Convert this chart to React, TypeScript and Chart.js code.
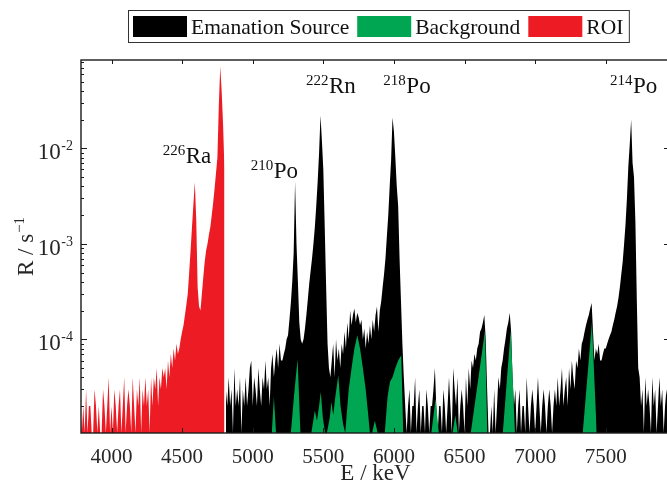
import React, { useEffect, useRef } from 'react';
import { Chart, registerables } from 'chart.js';

Chart.register(...registerables);

const FONT = "'Liberation Serif', 'Times New Roman', serif";

// Axis ranges (keV, s^-1)
const X_MIN = 3784;
const X_MAX = 7955;
const Y_MIN = 1.045e-5;
const Y_MAX = 0.084;

const xTickValues = [4000, 4500, 5000, 5500, 6000, 6500, 7000, 7500];
const yTickExponents = [-2, -3, -4];

const xTitle = 'E / keV';
const yTitleMain = 'R / s';
const yTitleSup = '\u22121';

// Rates are given in units of 1e-5 s^-1, histogram bins of 10 keV
const RATE_UNIT = 1e-5;
const BIN_WIDTH = 10;

const seriesNames = ['Emanation Source', 'Background', 'ROI'];
const seriesColors = ['#000000', '#00A651', '#ED1C24'];

// ROI: bins starting at 3780 keV
const roiStart = 3780;
const roiRate = [
  2, 0, 2, 0, 3, 0, 2, 2, 0, 0,
  3, 2, 0, 2, 0, 0, 3, 2, 0, 2,
  4, 0, 2, 0, 3, 2, 0, 2, 3, 0,
  2, 4, 0, 2, 3, 2, 0, 4, 2, 0,
  3, 2, 4, 0, 3, 2, 4, 2, 3, 0,
  4, 2, 4, 3, 5, 2, 4, 3, 5, 4,
  5, 3, 6, 4, 7, 5, 8, 6, 9, 7,
  8, 10, 12, 14, 18, 23, 30, 50, 85, 150,
  260, 440, 180, 35, 22, 20, 30, 45, 65, 85,
  100, 125, 150, 200, 270, 380, 550, 800, 2800, 7200,
  4000, 1800, 600,
];

// Emanation source: bins starting at 4810 keV
const sourceStart = 4810;
const sourceRate = [
  3, 2, 4, 2, 3, 0, 5, 2, 3, 2,
  4, 0, 3, 2, 4, 2, 3, 5, 6, 2,
  4, 3, 2, 5, 3, 2, 4, 3, 6, 3,
  4, 2, 5, 7, 4, 6, 8, 5, 9, 6,
  6, 7, 8, 10, 11, 16, 24, 40, 80, 450,
  100, 40, 15, 10, 9, 10, 13, 18, 26, 38,
  52, 70, 100, 150, 250, 450, 900, 2200, 1200, 600,
  150, 35, 9, 5, 4, 6, 9, 4, 10, 6,
  8, 5, 9, 7, 12, 8, 15, 10, 20, 14,
  18, 21, 15, 19, 17, 14, 16, 10, 13, 8,
  12, 9, 14, 10, 16, 12, 18, 22, 12, 20,
  25, 35, 48, 70, 120, 200, 400, 750, 2100, 1500,
  800, 400, 250, 70, 25, 9, 4, 2, 0, 2,
  3, 0, 2, 2, 4, 0, 2, 3, 0, 2,
  2, 0, 3, 2, 0, 2, 2, 3, 5, 2,
  0, 2, 2, 0, 3, 2, 0, 2, 4, 2,
  0, 5, 3, 2, 4, 0, 2, 3, 2, 0,
  4, 2, 5, 3, 6, 5, 7, 6, 8, 9,
  12, 13, 15, 18, 10, 3, 0, 0, 2, 0,
  3, 0, 2, 4, 3, 5, 6, 8, 10, 13,
  15, 19, 12, 4, 2, 3, 0, 2, 3, 0,
  2, 2, 0, 4, 2, 0, 2, 3, 2, 0,
  2, 4, 2, 0, 2, 3, 2, 0, 2, 3,
  2, 0, 2, 3, 2, 4, 2, 3, 5, 2,
  3, 4, 2, 5, 3, 6, 4, 3, 6, 5,
  8, 6, 9, 10, 12, 14, 16, 18, 21, 24,
  12, 6, 8, 7, 9, 6, 6, 7, 8, 8,
  9, 10, 11, 12, 14, 16, 19, 22, 27, 35,
  48, 65, 100, 160, 300, 650, 1100, 2000, 700, 500,
  170, 26, 5, 4, 2, 3, 0, 4, 2, 3,
  2, 0, 4, 2, 3, 0, 2, 4, 2, 3,
  0, 2, 3, 2, 2,
];

// Background: peak outlines (keV, 1e-5 s^-1)
const backgroundEnergy = [
  5135, 5150, 5165,
  5270, 5292, 5305, 5318, 5338,
  5415, 5440, 5455, 5470, 5482, 5497, 5512,
  5525, 5545, 5558, 5570, 5585, 5606, 5622, 5640, 5655,
  5660, 5680, 5700, 5720, 5741, 5760, 5780, 5800, 5815, 5830,
  5845, 5865, 5885,
  5935, 5955, 5972, 5990, 6010, 6030, 6052, 6066,
  6265, 6295, 6318,
  6415, 6435, 6452,
  6544, 6645, 6661,
  6771, 6827, 6857,
  7337, 7402, 7436,
];
const backgroundRate = [
  0, 2.5, 0,
  0, 2.5, 4, 6.2, 0,
  0, 1.8, 1.4, 2.0, 2.8, 1.5, 0,
  0, 1.5, 2.2, 1.6, 2.5, 4.2, 2.0, 1.3, 0,
  0, 3, 5, 8, 11, 8, 5, 3, 1.8, 0,
  0, 1.4, 0,
  0, 2.5, 3.6, 4, 5, 6, 6.8, 0,
  0, 2.4, 0,
  0, 1.6, 0,
  0, 12.4, 0,
  0, 12.5, 0,
  0, 15, 0,
];

// Peak annotations (anchor: left edge energy, baseline rate)
const peakMass = ['226', '210', '222', '218', '214'];
const peakElement = ['Ra', 'Po', 'Rn', 'Po', 'Po'];
const peakLabelEnergy = [4363, 4986, 5377, 5925, 7530];
const peakLabelRate = [7.06e-3, 4.92e-3, 0.0377, 0.0377, 0.0377];

const toRate = (r: number) => (r > 0 ? r * RATE_UNIT : Y_MIN);

const decorPlugin = {
  id: 'decor',
  afterDatasetsDraw(chart: any) {
    const { ctx, chartArea: ca, scales } = chart;
    const xs = scales.x;
    const ys = scales.y;
    ctx.save();
    // frame
    ctx.strokeStyle = '#1a1a1a';
    ctx.lineWidth = 1.4;
    ctx.strokeRect(ca.left, ca.top, ca.right - ca.left, ca.bottom - ca.top);
    // ticks
    ctx.lineWidth = 1;
    ctx.beginPath();
    xTickValues.forEach((v) => {
      const px = Math.round(xs.getPixelForValue(v)) + 0.5;
      ctx.moveTo(px, ca.bottom);
      ctx.lineTo(px, ca.bottom - 5);
      ctx.moveTo(px, ca.top);
      ctx.lineTo(px, ca.top + 4);
    });
    for (let e = -6; e <= 0; e++) {
      for (let m = 1; m <= 9; m++) {
        const v = m * Math.pow(10, e);
        if (v < ys.min || v > ys.max) continue;
        const py = Math.round(ys.getPixelForValue(v)) + 0.5;
        const len = m === 1 ? 6 : 3;
        ctx.moveTo(ca.left, py);
        ctx.lineTo(ca.left + len, py);
        ctx.moveTo(ca.right, py);
        ctx.lineTo(ca.right - len, py);
      }
    }
    ctx.stroke();

    // y tick labels 10^e
    ctx.fillStyle = '#262626';
    ctx.textBaseline = 'alphabetic';
    ctx.textAlign = 'left';
    yTickExponents.forEach((e) => {
      const py = ys.getPixelForValue(Math.pow(10, e));
      const sup = '-' + Math.abs(e);
      ctx.font = `14px ${FONT}`;
      const supW = ctx.measureText(sup).width;
      ctx.font = `23px ${FONT}`;
      const mainW = ctx.measureText('10').width;
      const right = ca.left - 8;
      const supX = right - supW;
      ctx.fillText('10', supX - mainW - 0.5, py + 11);
      ctx.font = `14px ${FONT}`;
      ctx.fillText(sup, supX, py + 2);
    });

    // y axis title
    ctx.save();
    ctx.translate(33, (ca.top + ca.bottom) / 2);
    ctx.rotate(-Math.PI / 2);
    ctx.font = `23px ${FONT}`;
    const tMainW = ctx.measureText(yTitleMain).width;
    ctx.font = `15px ${FONT}`;
    const tSupW = ctx.measureText(yTitleSup).width;
    const start = -(tMainW + tSupW + 1) / 2;
    ctx.font = `23px ${FONT}`;
    ctx.fillText(yTitleMain, start, 0);
    ctx.font = `15px ${FONT}`;
    ctx.fillText(yTitleSup, start + tMainW + 1, -9);
    ctx.restore();

    // peak annotations
    ctx.fillStyle = '#111111';
    peakMass.forEach((mass, i) => {
      const px = xs.getPixelForValue(peakLabelEnergy[i]);
      const py = ys.getPixelForValue(peakLabelRate[i]);
      ctx.font = `15px ${FONT}`;
      const w = ctx.measureText(mass).width;
      ctx.fillText(mass, px, py - 8);
      ctx.font = `23px ${FONT}`;
      ctx.fillText(peakElement[i], px + w + 0.5, py);
    });

    // legend
    const boxLeft = 128.5;
    const boxTop = 10.5;
    const swW = 54;
    const swH = 21;
    ctx.font = `21.5px ${FONT}`;
    let x = boxLeft + 4.5;
    const order = [0, 1, 2];
    order.forEach((i) => {
      ctx.fillStyle = seriesColors[i];
      ctx.fillRect(x, 16, swW, swH);
      x += swW + 4;
      ctx.fillStyle = '#111111';
      ctx.fillText(seriesNames[i], x, 33.5);
      x += ctx.measureText(seriesNames[i]).width + 8;
    });
    ctx.strokeStyle = '#333333';
    ctx.lineWidth = 1;
    ctx.strokeRect(boxLeft, boxTop, x - 8 + 6 - boxLeft, 32);
    ctx.restore();
  },
};

export default function App() {
  const ref = useRef<HTMLCanvasElement>(null);
  useEffect(() => {
    const sourceData = sourceRate.map((r, i) => ({ x: sourceStart + i * BIN_WIDTH, y: toRate(r) }));
    const roiData = roiRate.map((r, i) => ({ x: roiStart + i * BIN_WIDTH, y: toRate(r) }));
    const bgData = backgroundEnergy.map((e, i) => ({ x: e, y: toRate(backgroundRate[i]) }));
    const chart = new Chart(ref.current as HTMLCanvasElement, {
      type: 'line',
      data: {
        datasets: [
          {
            label: seriesNames[0],
            data: sourceData,
            borderColor: seriesColors[0],
            backgroundColor: seriesColors[0],
            borderWidth: 0,
            fill: 'start',
            order: 1,
          },
          {
            label: seriesNames[1],
            data: bgData,
            borderColor: seriesColors[1],
            backgroundColor: seriesColors[1],
            borderWidth: 0,
            fill: 'start',
            order: 0,
          },
          {
            label: seriesNames[2],
            data: roiData,
            borderColor: seriesColors[2],
            backgroundColor: seriesColors[2],
            borderWidth: 0,
            fill: 'start',
            order: 2,
          },
        ],
      },
      options: {
        animation: false,
        responsive: false,
        events: [],
        layout: { padding: { left: 0, right: 10, top: 60, bottom: 0 } },
        elements: { point: { radius: 0 }, line: { tension: 0 } },
        plugins: { legend: { display: false }, tooltip: { enabled: false } },
        scales: {
          x: {
            type: 'linear',
            min: X_MIN,
            max: X_MAX,
            grid: { display: false, drawTicks: false },
            border: { display: false },
            afterBuildTicks: (scale: any) => {
              scale.ticks = xTickValues.map((value) => ({ value }));
            },
            afterFit: (scale: any) => {
              scale.height = 51;
            },
            ticks: {
              autoSkip: false,
              maxRotation: 0,
              padding: 12,
              color: '#262626',
              font: { family: FONT, size: 21 },
              callback: (v: any) => String(v),
            },
            title: {
              display: true,
              text: xTitle,
              color: '#262626',
              font: { family: FONT, size: 23 },
              padding: { top: 0, bottom: -4 },
            },
          },
          y: {
            type: 'logarithmic',
            min: Y_MIN,
            max: Y_MAX,
            grid: { display: false, drawTicks: false },
            border: { display: false },
            ticks: { display: false },
            afterFit: (scale: any) => {
              scale.width = 81;
            },
          },
        },
      },
      plugins: [decorPlugin],
    } as any);
    return () => chart.destroy();
  }, []);
  return (
    <div
      style={{
        position: 'fixed',
        left: 0,
        top: 0,
        width: 667,
        height: 484,
        overflow: 'hidden',
        background: '#fff',
      }}
    >
      <canvas ref={ref} width={680} height={484} style={{ display: 'block' }} />
    </div>
  );
}
